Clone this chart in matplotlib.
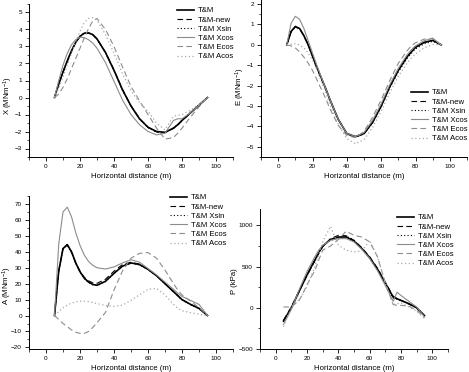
import matplotlib
matplotlib.use("Agg")
import matplotlib.pyplot as plt
from matplotlib.ticker import MultipleLocator

plt.rcParams['font.family'] = ['Liberation Sans', 'DejaVu Sans']
plt.rcParams['mathtext.default'] = 'regular'

# horizontal distance (m)
dist = [5, 7.5, 10, 12.5, 15, 17.5, 20, 22.5, 25, 27.5, 30, 35, 40, 45, 50,
        55, 60, 65, 70, 75, 77.5, 80, 85, 90, 95]

series_names = ['T&M', 'T&M-new', 'T&M Xsin', 'T&M Xcos', 'T&M Ecos', 'T&M Acos']

# X (MNm^-1)
X_tm = [0, 0.8, 1.5, 2.15, 2.75, 3.25, 3.6, 3.78, 3.8, 3.7, 3.45, 2.65, 1.6, 0.45, -0.5,
        -1.25, -1.75, -2.0, -2.05, -1.8, -1.6, -1.35, -0.9, -0.45, 0]
X_new = [0, 0.78, 1.48, 2.13, 2.73, 3.23, 3.58, 3.77, 3.79, 3.69, 3.44, 2.65, 1.62, 0.47, -0.48,
         -1.24, -1.75, -2.02, -2.07, -1.82, -1.62, -1.37, -0.92, -0.46, 0]
X_xsin = [0, 0.82, 1.52, 2.17, 2.76, 3.26, 3.61, 3.79, 3.8, 3.69, 3.43, 2.62, 1.57, 0.42, -0.52,
          -1.27, -1.77, -2.03, -2.06, -1.79, -1.59, -1.34, -0.88, -0.44, 0]
X_xcos = [0, 1.0, 1.9, 2.6, 3.1, 3.4, 3.55, 3.52, 3.4, 3.2, 2.9, 2.05, 0.95, -0.15, -1.0,
          -1.6, -2.0, -2.2, -2.1, -1.35, -1.25, -1.25, -0.9, -0.45, 0]
X_ecos = [0, 0.2, 0.6, 1.1, 1.7, 2.3, 2.9, 3.5, 4.05, 4.5, 4.65, 4.0, 3.0, 1.8, 0.65,
          -0.2, -1.0, -1.8, -2.45, -2.35, -2.1, -1.8, -1.15, -0.55, 0]
X_acos = [0, 0.55, 1.2, 1.9, 2.6, 3.3, 3.9, 4.4, 4.65, 4.7, 4.55, 3.7, 2.6, 1.4, 0.4,
          -0.3, -0.8, -1.5, -1.9, -1.1, -1.05, -1.0, -0.75, -0.4, 0]

# E (MNm^-1)
E_tm = [0, 0.65, 0.9, 0.8, 0.45, 0.0, -0.55, -1.1, -1.6, -2.1, -2.65, -3.65, -4.35, -4.5, -4.35,
        -3.8, -3.0, -2.05, -1.25, -0.6, -0.35, -0.12, 0.12, 0.22, 0]
E_new = [0, 0.63, 0.88, 0.79, 0.44, 0.0, -0.55, -1.1, -1.62, -2.12, -2.66, -3.66, -4.36, -4.52, -4.36,
         -3.8, -3.0, -2.05, -1.25, -0.6, -0.35, -0.12, 0.12, 0.22, 0]
E_xsin = [0, 0.66, 0.91, 0.8, 0.44, -0.02, -0.57, -1.12, -1.62, -2.12, -2.67, -3.67, -4.37, -4.52, -4.37,
          -3.83, -3.05, -2.12, -1.33, -0.68, -0.43, -0.2, 0.05, 0.17, 0]
E_xcos = [0, 1.05, 1.4, 1.25, 0.8, 0.2, -0.4, -1.0, -1.55, -2.1, -2.65, -3.65, -4.35, -4.5, -4.3,
          -3.7, -2.9, -1.95, -1.15, -0.5, -0.25, -0.05, 0.2, 0.33, 0]
E_ecos = [0, -0.05, -0.15, -0.35, -0.6, -0.9, -1.25, -1.7, -2.15, -2.6, -3.1, -3.95, -4.45, -4.55, -4.25,
          -3.55, -2.7, -1.75, -0.9, -0.3, -0.05, 0.1, 0.28, 0.3, 0]
E_acos = [0, 0.03, 0.05, 0.0, -0.15, -0.4, -0.75, -1.2, -1.75, -2.3, -2.9, -3.9, -4.6, -4.85, -4.65,
          -4.05, -3.25, -2.35, -1.55, -0.9, -0.65, -0.45, -0.15, 0.02, 0]

# A (MNm^-1)
A_tm = [0, 28, 42, 44.5, 40, 33, 27.5, 23.5, 21, 19.5, 19, 21.5, 26.5, 31, 33,
        32, 29, 25, 20, 15, 12.5, 10, 7, 4.5, 0]
A_new = [0, 28, 42, 44.5, 40, 33, 27.8, 24, 21.8, 20.5, 20.2, 22.8, 27.8, 32, 33.5,
         32.2, 29, 25, 20, 15, 12.5, 10, 7, 4.5, 0]
A_xsin = [0, 27.5, 41.5, 44, 39.5, 32.5, 27.2, 23.2, 20.8, 19.3, 18.8, 21.3, 26.3, 30.8, 32.8,
          31.8, 28.8, 24.8, 19.8, 14.8, 12.3, 9.8, 6.8, 4.3, 0]
A_xcos = [0, 45, 65, 68, 62, 52, 44, 38, 34, 31.5, 30, 29.2, 30.5, 33, 35,
          33.5, 29.5, 25.5, 21, 16.5, 14, 12, 9.5, 7, 0]
A_ecos = [0, -2.5, -5, -7, -9, -10.5, -11.2, -11.2, -10, -7.5, -4.5, 2, 16, 28, 36,
          39, 39.5, 36, 28.5, 20, 16, 13, 9, 5, 0]
A_acos = [0, 2.5, 4.8, 6.5, 7.8, 8.6, 9, 9, 8.7, 8.2, 7.5, 6.3, 5.7, 6.5, 9.5,
          13, 16.5, 17, 13, 7, 4.5, 3, 1.8, 0.8, 0]

# P (kPa)
P_tm = [-160, -80, 0, 100, 200, 300, 400, 490, 580, 670, 750, 830, 860, 860, 810,
        720, 610, 470, 300, 130, 110, 90, 50, 0, -95]
P_new = [-150, -70, 10, 110, 210, 300, 390, 480, 570, 660, 740, 840, 880, 875, 820,
         730, 620, 480, 310, 140, 115, 90, 45, 0, -100]
P_xsin = [-170, -85, -5, 95, 195, 295, 395, 485, 575, 665, 755, 820, 850, 870, 820,
          720, 600, 460, 290, 120, 105, 85, 55, 5, -90]
P_xcos = [-200, -110, -20, 100, 220, 330, 440, 530, 620, 700, 760, 820, 840, 840, 800,
          710, 600, 450, 270, 80, 190, 150, 80, 10, -110]
P_ecos = [10, 10, 10, 50, 90, 180, 280, 370, 450, 580, 700, 750, 830, 930, 880,
          860, 800, 620, 300, 40, 30, 30, 20, -30, -120]
P_acos = [-230, -110, -5, 60, 100, 170, 260, 380, 500, 650, 800, 990, 760, 700, 680,
          690, 820, 620, 300, 40, 50, 60, 10, -40, -130]

styles = [
    dict(color='black', lw=1.2, ls='-'),
    dict(color='black', lw=0.8, ls=(0, (5, 3))),
    dict(color='black', lw=0.8, ls=(0, (1, 2))),
    dict(color='#8c8c8c', lw=0.8, ls='-'),
    dict(color='#8c8c8c', lw=0.8, ls=(0, (5, 3))),
    dict(color='#a8a8a8', lw=0.9, ls=(0, (1, 2))),
]

W, H = 469, 372
fig = plt.figure(figsize=(W / 100, H / 100), dpi=100)


def px_axes(left, top, right, bottom):
    return fig.add_axes([left / W, 1 - bottom / H, (right - left) / W, (bottom - top) / H])


panels = [
    dict(rect=(29, 4, 233, 157), data=[X_tm, X_new, X_xsin, X_xcos, X_ecos, X_acos],
         ylim=(-3.5, 5.5), major=1, minor=0.5, ylabel='X (MNm$^{-1}$)',
         ylab_pos=(-0.068, 0.405), leg=(177, 7)),
    dict(rect=(261, 0, 467, 157), data=[E_tm, E_new, E_xsin, E_xcos, E_ecos, E_acos],
         ylim=(-5.5, 2.2), major=1, minor=0.5, ylabel='E (MNm$^{-1}$)',
         ylab_pos=(-0.07, 0.447), leg=(411, 89)),
    dict(rect=(29, 196, 233, 349), data=[A_tm, A_new, A_xsin, A_xcos, A_ecos, A_acos],
         ylim=(-21, 75), major=10, minor=5, ylabel='A (MNm$^{-1}$)',
         ylab_pos=(-0.072, 0.413), leg=(170, 194)),
    dict(rect=(260, 209, 448, 349), data=[P_tm, P_new, P_xsin, P_xcos, P_ecos, P_acos],
         ylim=(-500, 1200), major=500, minor=250, ylabel='P (kPa)',
         ylab_pos=(-0.118, 0.488), leg=(397, 214)),
]

for p in panels:
    ax = px_axes(*p['rect'])
    lines = []
    for vals, st in zip(p['data'], styles):
        ln, = ax.plot(dist, vals, **st)
        lines.append(ln)
    ax.set_xlim(-10, 110)
    ax.set_ylim(*p['ylim'])
    ax.xaxis.set_major_locator(MultipleLocator(20))
    ax.xaxis.set_minor_locator(MultipleLocator(10))
    ax.yaxis.set_major_locator(MultipleLocator(p['major']))
    ax.yaxis.set_minor_locator(MultipleLocator(p['minor']))
    ax.set_xticks([0, 20, 40, 60, 80, 100])
    ax.spines['top'].set_visible(False)
    ax.spines['right'].set_visible(False)
    for s in ('left', 'bottom'):
        ax.spines[s].set_linewidth(0.7)
    ax.tick_params(which='major', direction='out', length=3, width=0.6, labelsize=4.6, pad=2)
    ax.tick_params(which='minor', direction='out', length=1.8, width=0.5)
    ax.set_xlabel('Horizontal distance (m)', fontsize=5.6, labelpad=3)
    ax.set_ylabel(p['ylabel'], fontsize=5.6)
    ax.yaxis.set_label_coords(*p['ylab_pos'])
    lx, ly = p['leg']
    fig.legend(lines, series_names, loc='upper left',
               bbox_to_anchor=(lx / W, 1 - ly / H), bbox_transform=fig.transFigure,
               frameon=False, fontsize=5.6, handlelength=2.2, handletextpad=0.5,
               labelspacing=0.22, borderpad=0, borderaxespad=0)

fig.savefig('out.png', dpi=100)
